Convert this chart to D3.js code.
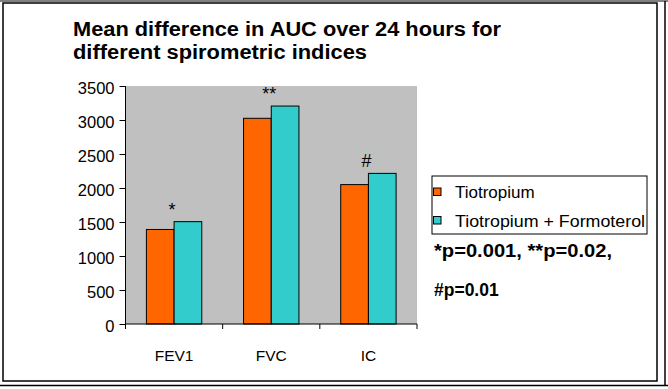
<!DOCTYPE html>
<html>
<head>
<meta charset="utf-8">
<script src="https://cdn.jsdelivr.net/npm/d3@7"></script>
<style>
body { margin:0; background:#fff; }
text { font-family: "Liberation Sans", Arial, sans-serif; }
</style>
</head>
<body>
<div id="chart"></div>
<script>
var categories = ["FEV1", "FVC", "IC"];
var seriesNames = ["Tiotropium", "Tiotropium + Formoterol"];
var tiotropium = [1390, 3025, 2050];
var tioForm = [1505, 3205, 2215];
var marks = ["*", "**", "#"];
var yTicks = [0, 500, 1000, 1500, 2000, 2500, 3000, 3500];
var colors = ["#ff6600", "#33cccc"];

var W = 668, H = 389;
var svg = d3.select("#chart").append("svg").attr("width", W).attr("height", H);

// cadre
svg.append("rect").attr("x", 3).attr("y", 3).attr("width", 654).attr("height", 378)
	.attr("fill", "none").attr("stroke", "#000").attr("stroke-width", 1.5);
svg.append("line").attr("x1", 0).attr("x2", 668).attr("y1", 1).attr("y2", 1).attr("stroke", "#000");
svg.append("line").attr("x1", 665).attr("x2", 665).attr("y1", 1).attr("y2", 386).attr("stroke", "#000").attr("stroke-width", 1.5);
svg.append("line").attr("x1", 0).attr("x2", 668).attr("y1", 385.5).attr("y2", 385.5).attr("stroke", "#000").attr("stroke-width", 1.5);

// titre
svg.append("text").attr("x", 73).attr("y", 36).attr("font-size", 20).attr("font-weight", "bold")
	.attr("textLength", 428).attr("lengthAdjust", "spacingAndGlyphs")
	.text("Mean difference in AUC over 24 hours for");
svg.append("text").attr("x", 73).attr("y", 59).attr("font-size", 20).attr("font-weight", "bold")
	.attr("textLength", 294).attr("lengthAdjust", "spacingAndGlyphs")
	.text("different spirometric indices");

var pLeft = 125.5, pRight = 417, pTop = 86, pBottom = 324;

var x = d3.scaleBand().domain(categories).range([pLeft, pRight]);
var y = d3.scaleLinear().domain([0, 3500]).range([pBottom, pTop]);

svg.append("rect").attr("x", pLeft).attr("y", pTop).attr("width", pRight - pLeft).attr("height", pBottom - pTop)
	.attr("fill", "#c0c0c0");

var bw = x.bandwidth() * 0.285;
var groups = [tiotropium, tioForm];
groups.forEach(function(vals, s) {
	svg.selectAll(".bar" + s).data(vals).enter().append("rect")
		.attr("class", "bar" + s)
		.attr("x", function(d, i) { return x(categories[i]) + x.bandwidth() / 2 - bw + s * bw; })
		.attr("y", function(d) { return y(d); })
		.attr("width", bw)
		.attr("height", function(d) { return pBottom - y(d); })
		.attr("fill", colors[s])
		.attr("stroke", "#000").attr("stroke-width", 1);
});

svg.selectAll(".mark").data(marks).enter().append("text")
	.attr("class", "mark")
	.attr("x", function(d, i) { return x(categories[i]) + x.bandwidth() / 2 - 2; })
	.attr("y", function(d, i) { return y(tioForm[i]) - 6; })
	.attr("text-anchor", "middle").attr("font-size", 18)
	.text(function(d) { return d; });

// axes
var yAxis = d3.axisLeft(y).tickValues(yTicks).tickSize(6).tickPadding(5).tickFormat(d3.format("d"));
var gy = svg.append("g").attr("transform", "translate(" + pLeft + ",0)").call(yAxis);
gy.selectAll("text").attr("font-size", 16.5).attr("font-family", "Liberation Sans, Arial, sans-serif")
	.attr("fill", "#000").attr("dy", "0.45em");
gy.selectAll("line").attr("stroke", "#000");
gy.select(".domain").attr("d", "M0," + pTop + "V" + pBottom).attr("stroke", "#000");

var xAxis = d3.axisBottom(x).tickSize(0).tickPadding(0);
var gx = svg.append("g").attr("transform", "translate(0," + pBottom + ")").call(xAxis);
gx.selectAll("text").attr("font-size", 15.5).attr("font-family", "Liberation Sans, Arial, sans-serif")
	.attr("fill", "#000").attr("dy", 0).attr("y", 37);
gx.select(".domain").attr("d", "M" + pLeft + ",0H" + pRight).attr("stroke", "#000");
var bounds = categories.map(function(c) { return x(c); }).concat([pRight]);
gx.selectAll(".sep").data(bounds).enter().append("line")
	.attr("class", "sep")
	.attr("x1", function(d) { return d; }).attr("x2", function(d) { return d; })
	.attr("y1", 0).attr("y2", 5).attr("stroke", "#000");

// legende
var lg = svg.append("g");
lg.append("rect").attr("x", 432).attr("y", 176).attr("width", 215).attr("height", 58)
	.attr("fill", "#fff").attr("stroke", "#000");
seriesNames.forEach(function(n, i) {
	var base = 198 + i * 28.5;
	lg.append("rect").attr("x", 433.5).attr("y", base - 10).attr("width", 7.5).attr("height", 7.5)
		.attr("fill", colors[i]).attr("stroke", "#000");
	var t = lg.append("text").attr("x", 455).attr("y", base).attr("font-size", 17).text(n);
	if (i == 1) t.attr("textLength", 190).attr("lengthAdjust", "spacingAndGlyphs");
});

svg.append("text").attr("x", 434).attr("y", 257).attr("font-size", 17.5).attr("font-weight", "bold")
	.attr("textLength", 178).attr("lengthAdjust", "spacingAndGlyphs")
	.text("*p=0.001, **p=0.02,");
svg.append("text").attr("x", 434).attr("y", 296).attr("font-size", 17.5).attr("font-weight", "bold")
	.text("#p=0.01");
</script>
</body>
</html>
